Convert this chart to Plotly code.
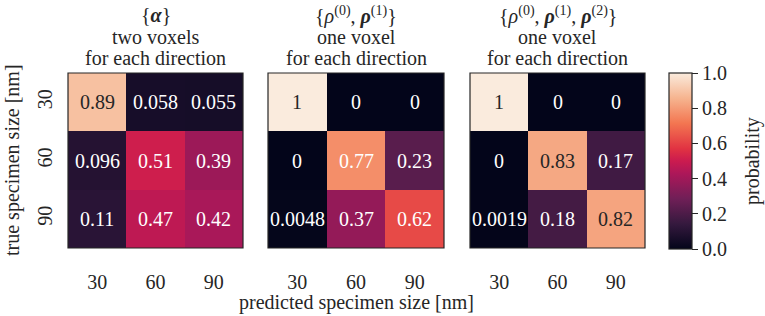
import plotly.graph_objects as go

sizes = [30, 60, 90]
size_labels = ["30", "60", "90"]
m_alpha = [[0.89, 0.058, 0.055], [0.096, 0.51, 0.39], [0.11, 0.47, 0.42]]
m_rho01 = [[1, 0, 0], [0, 0.77, 0.23], [0.0048, 0.37, 0.62]]
m_rho012 = [[1, 0, 0], [0, 0.83, 0.17], [0.0019, 0.18, 0.82]]
titles = [
    ["{<b><i>α</i></b>}", "two voxels", "for each direction"],
    ["{<i>ρ</i><sup>(0)</sup>, <b><i>ρ</i></b><sup>(1)</sup>}", "one voxel", "for each direction"],
    ["{<i>ρ</i><sup>(0)</sup>, <b><i>ρ</i></b><sup>(1)</sup>, <b><i>ρ</i></b><sup>(2)</sup>}",
     "one voxel", "for each direction"],
]
cb_ticks = [0.0, 0.2, 0.4, 0.6, 0.8, 1.0]

rocket = [
    [0.0, "#03051a"], [0.143, "#35193e"], [0.286, "#701f57"], [0.429, "#ad1759"],
    [0.5, "#cb1b4f"], [0.571, "#e13342"], [0.714, "#f37651"], [0.857, "#f6b48f"],
    [1.0, "#faebdd"],
]

W, H = 765, 316
FONT = "Liberation Serif"
FS = 20
TXT = "#262626"
domains = [(68, 243), (268, 444), (470, 645)]
ytop, ybot = 73, 248
title_rows = [15, 37, 58]

fig = go.Figure()
mats = [m_alpha, m_rho01, m_rho012]
annotations = []
shapes = []
for i, (m, (x0, x1)) in enumerate(zip(mats, domains)):
    xa = "x" if i == 0 else f"x{i+1}"
    ya = "y" if i == 0 else f"y{i+1}"
    fig.add_trace(go.Heatmap(
        z=m, x=sizes, y=sizes, xaxis=xa, yaxis=ya,
        colorscale=rocket, zmin=0, zmax=1, showscale=(i == 2),
        hoverinfo="skip",
        colorbar=dict(
            x=669 / W, xanchor="left", y=1 - ytop / H, yanchor="top",
            len=(249 - ytop) / H, lenmode="fraction", thickness=23,
            xpad=0, ypad=0,
            outlinewidth=1.2, outlinecolor=TXT,
            ticks="outside", ticklen=6, tickwidth=1.2, tickcolor=TXT,
            tickvals=cb_ticks, ticktext=[f"{t:.1f}" for t in cb_ticks],
            tickfont=dict(family=FONT, size=FS, color=TXT),
        ),
    ))
    axname = "xaxis" if i == 0 else f"xaxis{i+1}"
    ayname = "yaxis" if i == 0 else f"yaxis{i+1}"
    fig.layout[axname] = dict(
        domain=[x0 / W, x1 / W], anchor=ya, automargin=False,
        range=[15, 105], showgrid=False, zeroline=False, ticks="",
        tickvals=sizes, ticktext=size_labels, ticklabelstandoff=20,
        tickfont=dict(family=FONT, size=FS, color=TXT),
    )
    fig.layout[ayname] = dict(
        domain=[1 - ybot / H, 1 - ytop / H], anchor=xa, automargin=False,
        range=[105, 15], showgrid=False, zeroline=False, ticks="",
        tickvals=sizes, ticktext=size_labels,
        showticklabels=(i == 0), tickangle=-90, ticklabelstandoff=11,
        tickfont=dict(family=FONT, size=FS, color=TXT),
    )
    for r, yv in enumerate(sizes):
        for c, xv in enumerate(sizes):
            v = m[r][c]
            annotations.append(dict(
                x=xv, y=yv, xref=xa, yref=ya, text=format(v, ".2g"),
                showarrow=False,
                font=dict(family=FONT, size=FS, color=TXT if v > 0.8 else "white"),
            ))
    shapes.append(dict(
        type="rect", xref=f"{xa} domain", yref=f"{ya} domain",
        x0=0, x1=1, y0=0, y1=1, line=dict(color=TXT, width=1.2),
    ))
    for line, yrow in zip(titles[i], title_rows):
        annotations.append(dict(
            x=(x0 + x1) / 2 / W, y=1 - yrow / H, xref="paper", yref="paper",
            xanchor="center", yanchor="middle", text=line, showarrow=False,
            font=dict(family=FONT, size=FS, color=TXT),
        ))

annotations.append(dict(
    x=(68 + 645) / 2 / W, y=1 - 302 / H, xref="paper", yref="paper",
    xanchor="center", yanchor="middle", text="predicted specimen size [nm]",
    showarrow=False, font=dict(family=FONT, size=FS, color=TXT),
))
annotations.append(dict(
    x=12 / W, y=1 - 160 / H, xref="paper", yref="paper",
    xanchor="center", yanchor="middle", text="true specimen size [nm]",
    textangle=-90, showarrow=False, font=dict(family=FONT, size=FS, color=TXT),
))
annotations.append(dict(
    x=752 / W, y=1 - 161 / H, xref="paper", yref="paper",
    xanchor="center", yanchor="middle", text="probability",
    textangle=-90, showarrow=False, font=dict(family=FONT, size=FS, color=TXT),
))

fig.update_layout(
    width=W, height=H, margin=dict(l=0, r=0, t=0, b=0, autoexpand=False),
    paper_bgcolor="white", plot_bgcolor="white", font=dict(family=FONT),
    annotations=annotations, shapes=shapes, showlegend=False,
)
fig.write_html("out.html", config={"displayModeBar": False},
               post_script="document.body.style.margin='0';")
